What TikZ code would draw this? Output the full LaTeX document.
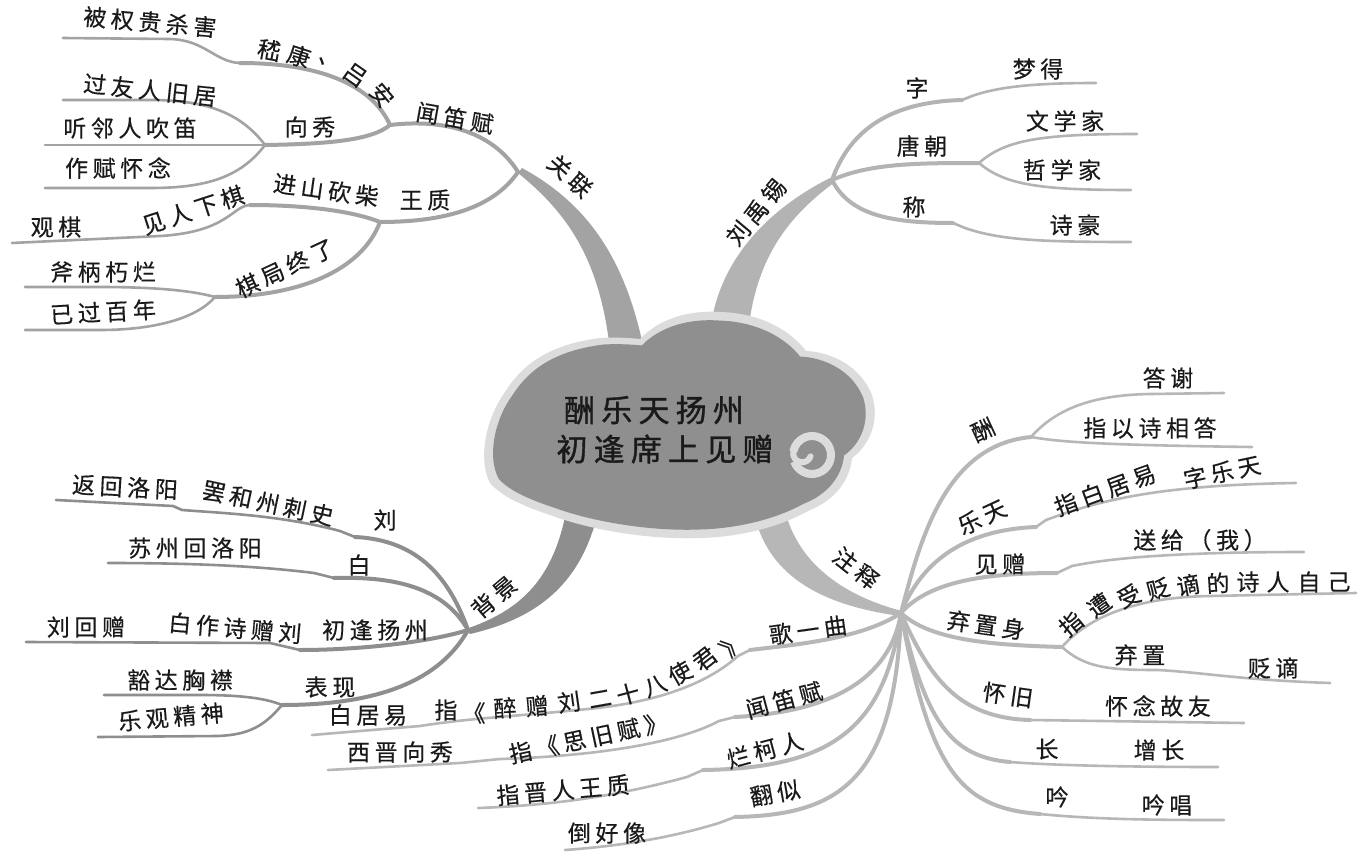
\documentclass[tikz,border=0pt]{standalone}
\usepackage{fontspec}
\newfontfamily\zh[LetterSpace=20, FakeBold=0.4]{Noto Sans CJK SC}
\newfontfamily\zhb[LetterSpace=20, FakeBold=1.2]{Noto Sans CJK SC}
\definecolor{gA}{HTML}{A3A3A3}
\definecolor{gL}{HTML}{B3B3B3}
\definecolor{gB}{HTML}{8E8E8E}
\definecolor{gZ}{HTML}{B7B7B7}
\definecolor{cloudfill}{HTML}{8F8F8F}
\definecolor{halo}{HTML}{DCDCDC}
\definecolor{ink}{HTML}{1A1A1A}
\tikzset{
  br/.style={draw=#1, line width=4pt, line cap=round, line join=round},
  lf/.style={draw=#1, line width=2.6pt, line cap=round, line join=round},
  lbl/.style={font=\zh\fontsize{23}{25}\selectfont, text=ink, inner sep=0pt},
  ttl/.style={font=\zhb\fontsize{31}{34}\selectfont, text=ink, inner sep=0pt},
}
\begin{document}
\begin{tikzpicture}[x=1pt,y=-1pt]
\fill[white] (0,0) rectangle (1358,854);
\useasboundingbox (0,0) rectangle (1358,854);

% ---------- trunks ----------
\fill[gA] (518,173) .. controls (570,215) and (600,262) .. (610,350) -- (644,350) .. controls (626,262) and (590,205) .. (522,168) -- cycle;
\fill[gL] (711,325) .. controls (722,250) and (780,203) .. (830,178) -- (835,182) .. controls (790,215) and (758,255) .. (749,325) -- cycle;
\fill[gB] (566,512) .. controls (552,585) and (515,612) .. (466,629) -- (470,634) .. controls (530,620) and (580,590) .. (598,512) -- cycle;
\fill[gZ] (753,508) .. controls (765,575) and (820,605) .. (900,616) -- (902,611) .. controls (840,595) and (795,560) .. (784,506) -- cycle;

% ---------- cloud ----------
\def\cloudpath{(490,483) .. controls (478,460) and (485,420) .. (505,392)
  .. controls (520,368) and (545,345) .. (600,338)
  .. controls (615,337) and (630,338) .. (640,339)
  .. controls (660,318) and (690,310) .. (720,312)
  .. controls (760,313) and (790,330) .. (806,351)
  .. controls (830,352) and (860,365) .. (872,395)
  .. controls (880,420) and (870,445) .. (852,458)
  .. controls (850,480) and (835,500) .. (810,510)
  .. controls (780,527) and (740,537) .. (700,538)
  .. controls (650,540) and (590,530) .. (550,515)
  .. controls (520,505) and (500,495) .. (490,483) -- cycle}
\fill[halo] \cloudpath;
\begin{scope}[shift={(678,425)}, xscale=0.954, yscale=0.925, shift={(-678,-425)}]
\fill[cloudfill] \cloudpath;
\end{scope}
\draw[halo, line width=8pt] (812,455) ++(160:19) arc[start angle=160, end angle=-170, radius=19];
\draw[halo, line width=6pt, line cap=round] (812,455) ++(-170:19) arc[start angle=190, end angle=20, radius=9];
\node[ttl] (title1) at (654,410) {酬乐天扬州};
\node[ttl] (title2) at (665,449) {初逢席上见赠};

% ---------- 关联 ----------
\coordinate (A0) at (518,172);
\coordinate (A1) at (390,125);
\coordinate (A2) at (240,63);
\coordinate (A2e) at (63,38);
\coordinate (A3) at (265,145);
\coordinate (A3a) at (63,100);
\coordinate (A3b) at (45,145);
\coordinate (A3c) at (45,188);
\coordinate (A4) at (380,222);
\coordinate (A5) at (250,205);
\coordinate (A5e) at (12,243);
\coordinate (A6) at (215,297);
\coordinate (A6a) at (25,287);
\coordinate (A6b) at (25,330);
\draw[br=gA] (A0) .. controls (495,135) and (450,118) .. (A1);
\draw[br=gA] (A1) .. controls (372,85) and (320,63) .. (A2);
\draw[lf=gA] (A2) .. controls (215,62) and (205,40) .. (170,39) -- (A2e);
\draw[br=gA] (A1) .. controls (372,140) and (330,144) .. (A3);
\draw[lf=gA] (A3) .. controls (240,112) and (205,100) .. (150,100) -- (A3a);
\draw[lf=gA] (A3) -- (A3b);
\draw[lf=gA] (A3) .. controls (240,178) and (205,188) .. (150,188) -- (A3c);
\draw[br=gA] (A0) .. controls (492,210) and (440,222) .. (A4);
\draw[br=gA] (A4) .. controls (350,210) and (300,205) .. (A5);
\draw[lf=gA] (A5) .. controls (232,206) and (228,232) .. (160,236) -- (A5e);
\draw[br=gA] (A4) .. controls (362,270) and (300,297) .. (A6);
\draw[lf=gA] (A6) .. controls (190,290) and (150,287) .. (100,287) -- (A6a);
\draw[lf=gA] (A6) .. controls (195,320) and (150,330) .. (100,330) -- (A6b);

\node[lbl, rotate=-42] (tGL) at (570,176) {关联};
\node[lbl, rotate=-10] (tWDF) at (455,118) {闻笛赋};
\node[lbl, rotate=-10] (tJ1) at (269,50) {嵇};
\node[lbl, rotate=-18] (tJ2) at (299,56) {康};
\node[lbl, rotate=-25] (tJ3) at (328,64) {、};
\node[lbl, rotate=-35] (tJ4) at (355,75) {吕};
\node[lbl, rotate=-50] (tJ5) at (382,95) {安};
\node[lbl, rotate=-5] (tBQG) at (150,22) {被权贵杀害};
\node[lbl] (tXX) at (310,127) {向秀};
\node[lbl, rotate=-6] (tGYR) at (150,90) {过友人旧居};
\node[lbl] (tTLR) at (130,128) {听邻人吹笛};
\node[lbl] (tZFH) at (118,168) {作赋怀念};
\node[lbl, rotate=-8] (tJSK) at (326,190) {进山砍柴};
\node[lbl] (tWZ) at (425,200) {王质};
\node[lbl, rotate=18] (tJRX) at (193,210) {见人下棋};
\node[lbl] (tGQ) at (56,227) {观棋};
\node[lbl, rotate=25] (tQJZ) at (285,268) {棋局终了};
\node[lbl] (tFBX) at (103,272) {斧柄朽烂};
\node[lbl, rotate=3] (tYGB) at (103,312) {已过百年};

% ---------- 刘禹锡 ----------
\coordinate (L0) at (832,180);
\coordinate (L1) at (962,100);
\coordinate (L1e) at (1096,83);
\coordinate (L2) at (979,163);
\coordinate (L2a) at (1137,134);
\coordinate (L2b) at (1131,190);
\coordinate (L3) at (953,223);
\coordinate (L3e) at (1131,242);
\draw[br=gL] (L0) .. controls (850,130) and (890,102) .. (L1);
\draw[lf=gL] (L1) -- (972,96) .. controls (1000,86) and (1040,83) .. (L1e);
\draw[br=gL] (L0) .. controls (870,163) and (920,163) .. (L2);
\draw[lf=gL] (L2) .. controls (1005,140) and (1040,134) .. (L2a);
\draw[lf=gL] (L2) .. controls (1005,185) and (1040,190) .. (L2b);
\draw[br=gL] (L0) .. controls (850,215) and (890,223) .. (L3);
\draw[lf=gL] (L3) -- (965,228) .. controls (1000,240) and (1040,242) .. (L3e);

\node[lbl, rotate=50] (tLYX) at (756,212) {刘禹锡};
\node[lbl] (tZi) at (917,88) {字};
\node[lbl] (tMD) at (1038,69) {梦得};
\node[lbl] (tTC) at (922,146) {唐朝};
\node[lbl] (tWXJ) at (1065,121) {文学家};
\node[lbl] (tZXJ) at (1062,170) {哲学家};
\node[lbl] (tCheng) at (914,207) {称};
\node[lbl] (tSH) at (1075,225) {诗豪};

% ---------- 背景 ----------
\coordinate (B0) at (468,630);
\coordinate (B1) at (355,537);
\coordinate (B1e) at (56,500);
\coordinate (B2) at (334,578);
\coordinate (B2e) at (108,563);
\coordinate (B3) at (300,650);
\coordinate (B3e) at (26,642);
\coordinate (B4) at (282,705);
\coordinate (B4a) at (104,695);
\coordinate (B4b) at (98,737);
\draw[br=gB] (B0) .. controls (450,580) and (420,540) .. (B1);
\draw[lf=gB] (B1) -- (340,531) .. controls (280,515) and (220,513) .. (182,510) -- (173,506) -- (B1e);
\draw[br=gB] (B0) .. controls (445,590) and (400,576) .. (B2);
\draw[lf=gB] (B2) -- (314,573) .. controls (250,565) and (180,563) .. (B2e);
\draw[br=gB] (B0) .. controls (430,642) and (360,650) .. (B3);
\draw[lf=gB] (B3) -- (270,643) -- (B3e);
\draw[br=gB] (B0) .. controls (440,680) and (380,705) .. (B4);
\draw[lf=gB] (B4) .. controls (265,698) and (240,695) .. (200,695) -- (B4a);
\draw[lf=gB] (B4) .. controls (265,725) and (250,735) .. (217,736) -- (B4b);

\node[lbl, rotate=40] (tBJ) at (494,597) {背景};
\node[lbl] (tLiu) at (385,520) {刘};
\node[lbl, rotate=-3] (tFHL) at (125,487) {返回洛阳};
\node[lbl, rotate=-12] (tBHZ) at (268,503) {罢和州刺史};
\node[lbl] (tBai) at (359,565) {白};
\node[lbl] (tSZH) at (195,548) {苏州回洛阳};
\node[lbl] (tCFY) at (375,630) {初逢扬州};
\node[lbl, rotate=-5] (tBZS) at (235,628) {白作诗赠刘};
\node[lbl] (tLHZ) at (86,627) {刘回赠};
\node[lbl] (tBX) at (330,687) {表现};
\node[lbl] (tHDX) at (180,680) {豁达胸襟};
\node[lbl, rotate=5] (tLGJ) at (171,717) {乐观精神};

% ---------- 注释 ----------
\coordinate (Z0) at (901,613);
\coordinate (Z1) at (1031,437);
\coordinate (Z1a) at (1224,393);
\coordinate (Z1b) at (1252,447);
\coordinate (Z2) at (1036,527);
\coordinate (Z2e) at (1296,483);
\coordinate (Z3) at (1057,573);
\coordinate (Z3e) at (1304,552);
\coordinate (Z4) at (1062,647);
\coordinate (Z4a) at (1356,593);
\coordinate (Z4b) at (1330,683);
\coordinate (Z5) at (1030,720);
\coordinate (Z5e) at (1244,723);
\coordinate (Z6) at (1010,762);
\coordinate (Z6e) at (1218,767);
\coordinate (Z7) at (1040,814);
\coordinate (Z7e) at (1224,820);
\coordinate (Z8) at (750,650);
\coordinate (Z8e) at (312,735);
\coordinate (Z9) at (735,717);
\coordinate (Z9e) at (328,770);
\coordinate (Z10) at (703,770);
\coordinate (Z10e) at (478,808);
\coordinate (Z11) at (735,817);
\coordinate (Z11e) at (565,850);

\draw[br=gZ] (Z0) .. controls (920,540) and (945,445) .. (Z1);
\draw[lf=gZ] (Z1) .. controls (1055,410) and (1090,395) .. (1150,394) -- (Z1a);
\draw[lf=gZ] (Z1) .. controls (1060,442) and (1100,445) .. (Z1b);
\draw[br=gZ] (Z0) .. controls (920,565) and (960,530) .. (Z2);
\draw[lf=gZ] (Z2) -- (1046,520) .. controls (1100,500) and (1160,485) .. (Z2e);
\draw[br=gZ] (Z0) .. controls (930,580) and (990,573) .. (Z3);
\draw[lf=gZ] (Z3) -- (1072,566) .. controls (1120,556) and (1200,552) .. (Z3e);
\draw[br=gZ] (Z0) .. controls (930,640) and (990,645) .. (Z4);
\draw[lf=gZ] (Z4) .. controls (1090,615) and (1140,597) .. (1210,596) -- (Z4a);
\draw[lf=gZ] (Z4) .. controls (1085,668) and (1110,670) .. (1157,670) .. controls (1200,672) and (1240,680) .. (Z4b);
\draw[br=gZ] (Z0) .. controls (930,680) and (960,718) .. (Z5);
\draw[lf=gZ] (Z5) -- (Z5e);
\draw[br=gZ] (Z0) .. controls (925,720) and (950,757) .. (Z6);
\draw[lf=gZ] (Z6) .. controls (1060,766) and (1150,767) .. (Z6e);
\draw[br=gZ] (Z0) .. controls (930,770) and (960,808) .. (Z7);
\draw[lf=gZ] (Z7) .. controls (1100,820) and (1170,820) .. (Z7e);
\draw[br=gZ] (Z0) .. controls (860,640) and (790,645) .. (Z8);
\draw[lf=gZ] (Z8) -- (738,656) .. controls (700,690) and (640,705) .. (577,710) .. controls (520,716) and (470,718) .. (420,726) -- (Z8e);
\draw[br=gZ] (Z0) .. controls (890,680) and (830,712) .. (Z9);
\draw[lf=gZ] (Z9) -- (719,721) .. controls (680,742) and (600,756) .. (500,759) -- (460,763) -- (Z9e);
\draw[br=gZ] (Z0) .. controls (885,730) and (830,768) .. (Z10);
\draw[lf=gZ] (Z10) -- (687,777) .. controls (620,795) and (560,805) .. (Z10e);
\draw[br=gZ] (Z0) .. controls (895,780) and (840,815) .. (Z11);
\draw[lf=gZ] (Z11) -- (719,823) .. controls (670,838) and (620,846) .. (Z11e);

\node[lbl, rotate=-38] (tZS) at (856,568) {注释};
\node[lbl, rotate=25] (tChou) at (983,430) {酬};
\node[lbl] (tDX) at (1168,378) {答谢};
\node[lbl] (tZYS) at (1150,428) {指以诗相答};
\node[lbl, rotate=25] (tLT) at (982,517) {乐天};
\node[lbl, rotate=20] (tZBJ) at (1105,490) {指白居易};
\node[lbl, rotate=12] (tZLT) at (1222,472) {字乐天};
\node[lbl] (tJZ) at (1000,564) {见赠};
\node[lbl] (tSG) at (1200,540) {送给（我）};
\node[lbl, rotate=-8] (tQZS) at (986,625) {弃置身};
\node[lbl, rotate=40] (tP1) at (1071,624) {指};
\node[lbl, rotate=35] (tP2) at (1099,605) {遭};
\node[lbl, rotate=25] (tP3) at (1129,596) {受};
\node[lbl, rotate=15] (tP4) at (1158,589) {贬};
\node[lbl, rotate=10] (tP5) at (1188,585) {谪};
\node[lbl, rotate=4] (tP6) at (1218,583) {的};
\node[lbl] (tP7) at (1248,582) {诗};
\node[lbl] (tP8) at (1278,582) {人};
\node[lbl] (tP9) at (1309,582) {自};
\node[lbl] (tP10) at (1339,582) {己};
\node[lbl] (tQZ) at (1140,655) {弃置};
\node[lbl] (tBZ) at (1273,668) {贬谪};
\node[lbl, rotate=-8] (tHJ) at (1008,695) {怀旧};
\node[lbl] (tHNG) at (1158,706) {怀念故友};
\node[lbl] (tChang) at (1047,749) {长};
\node[lbl] (tZC) at (1159,750) {增长};
\node[lbl] (tYin) at (1057,797) {吟};
\node[lbl] (tYC) at (1167,805) {吟唱};

\node[lbl, rotate=8] (tGYQ) at (808,630) {歌一曲};
\node[lbl] (tQ1) at (446,710) {指};
\node[lbl] (tQ2) at (474,713) {《};
\node[lbl, rotate=3] (tQ3) at (505,708) {醉};
\node[lbl, rotate=5] (tQ4) at (537,706) {赠};
\node[lbl, rotate=8] (tQ5) at (569,702) {刘};
\node[lbl, rotate=10] (tQ6) at (600,699) {二};
\node[lbl, rotate=15] (tQ7) at (628,694) {十};
\node[lbl, rotate=22] (tQ8) at (655,686) {八};
\node[lbl, rotate=30] (tQ9) at (680,673) {使};
\node[lbl, rotate=38] (tQ10) at (705,659) {君};
\node[lbl, rotate=45] (tQ11) at (732,644) {》};
\node[lbl] (tBJY) at (368,715) {白居易};
\node[lbl, rotate=15] (tWDF2) at (784,700) {闻笛赋};
\node[lbl, rotate=12] (tSJF) at (588,738) {指《思旧赋》};
\node[lbl] (tXJX) at (400,752) {西晋向秀};
\node[lbl, rotate=15] (tLKR) at (765,750) {烂柯人};
\node[lbl, rotate=5] (tZJR) at (563,790) {指晋人王质};
\node[lbl, rotate=10] (tFS) at (775,793) {翻似};
\node[lbl] (tDHX) at (607,833) {倒好像};
\end{tikzpicture}
\end{document}
